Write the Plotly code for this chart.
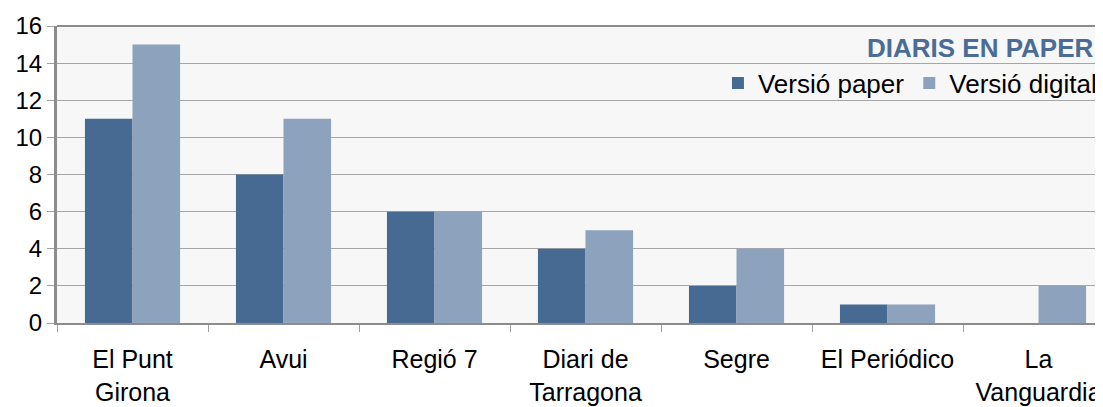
import plotly.graph_objs as go

# data
diaris = ["El Punt<br>Girona", "Avui", "Regió 7", "Diari de<br>Tarragona", "Segre", "El Periódico", "La<br>Vanguardia"]
versio_paper = [11, 8, 6, 4, 2, 1, 0]
versio_digital = [15, 11, 6, 5, 4, 1, 2]
y_ticks = [0, 2, 4, 6, 8, 10, 12, 14, 16]

font = "Liberation Sans, Arial, sans-serif"

fig = go.Figure()
fig.add_trace(go.Bar(x=diaris, y=versio_paper, name="Versió paper", marker=dict(color="#476A93", line_width=0)))
fig.add_trace(go.Bar(x=diaris, y=versio_digital, name="Versió digital", marker=dict(color="#8DA2BC", line_width=0)))

# page body has an 8px margin, so the figure is sized to the visible area
fig.update_layout(
    width=1095, height=399, autosize=False,
    margin=dict(l=49, r=0, t=18, b=84, autoexpand=False),
    plot_bgcolor="#F7F7F7", paper_bgcolor="white",
    barmode="group", bargap=0.37, bargroupgap=0,
    font=dict(family=font, size=25, color="black"),
    legend=dict(orientation="h", x=0.999, xanchor="right", y=0.808, yanchor="middle",
                bgcolor="rgba(0,0,0,0)", font=dict(size=26), itemwidth=30,
                traceorder="normal"),
    showlegend=True,
)
fig.add_annotation(text="<b>DIARIS EN PAPER</b>", xref="paper", yref="paper", x=0.9935, y=0.926,
                   xanchor="right", yanchor="middle", showarrow=False,
                   font=dict(family=font, size=26, color="#4A6C96"))

fig.update_xaxes(range=[-0.5, 6.427], showline=True, linecolor="#8C8C8C", linewidth=2,
                 ticks="outside", tickson="boundaries", ticklen=7, tickcolor="#A0A0A0",
                 showgrid=False, tickfont=dict(size=25), ticklabelstandoff=13)
fig.update_yaxes(range=[0, 16], tickvals=y_ticks, showline=True, linecolor="#8C8C8C", linewidth=3,
                 ticks="outside", ticklen=7, tickcolor="#A0A0A0", showgrid=True,
                 gridcolor="#A6A6A6", gridwidth=1, zeroline=False, tickfont=dict(size=24))
fig.add_shape(type="line", xref="paper", yref="paper", x0=0, x1=1, y0=1, y1=1,
              line=dict(color="#8C8C8C", width=2))

fig.write_html("out.html")
